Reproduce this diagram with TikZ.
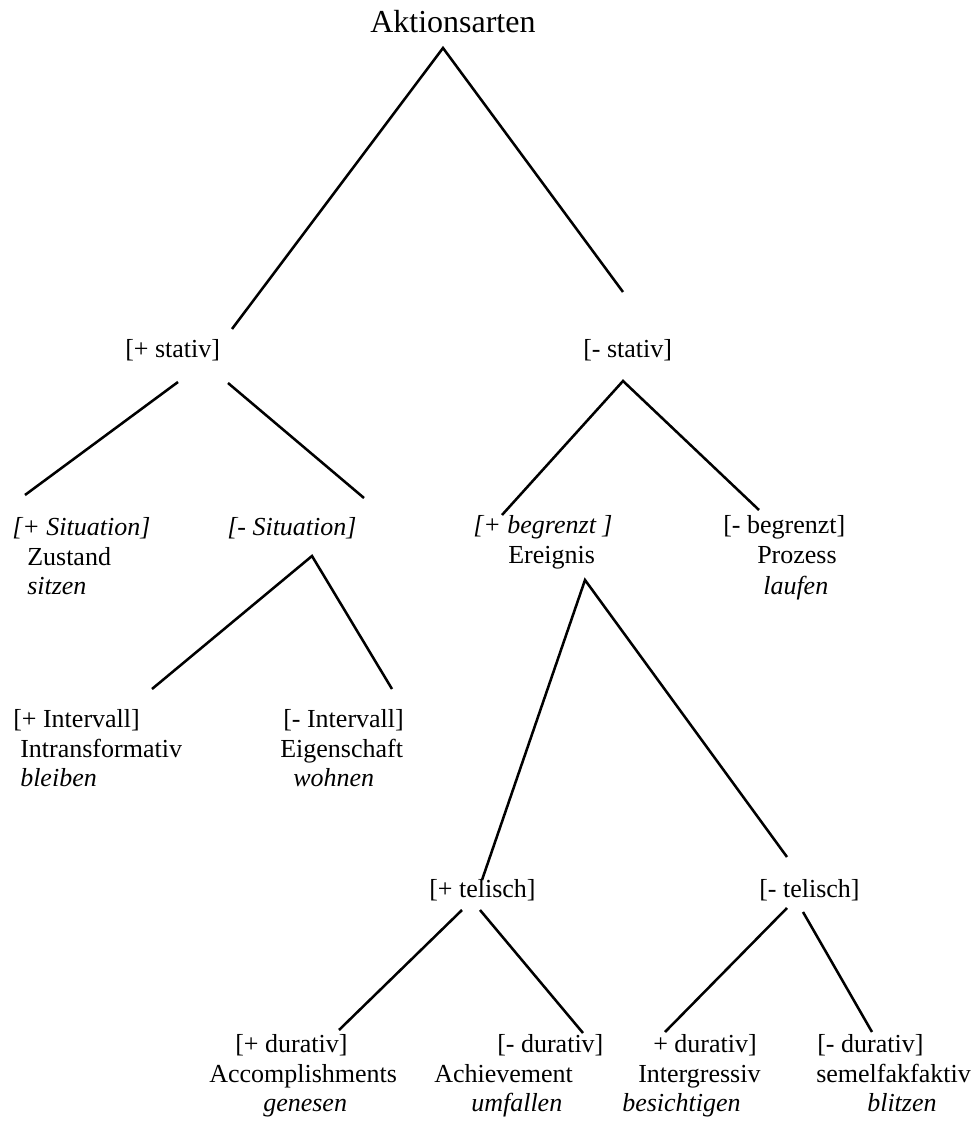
\documentclass[tikz,border=0pt]{standalone}
\usepackage{fontspec}
\setmainfont{Liberation Serif}
\begin{document}
\begin{tikzpicture}[x=0.75pt,y=-0.75pt,
  lbl/.style={anchor=base west,inner sep=0pt,font=\fontsize{19.5}{22}\selectfont},
  ilbl/.style={lbl,font=\fontsize{19.5}{22}\selectfont\itshape},
  ttl/.style={anchor=base west,inner sep=0pt,font=\fontsize{24}{28}\selectfont},
  edge/.style={line width=1.9pt}]
\useasboundingbox (0,0) rectangle (980,1144);
% title
\node[ttl] (root) at (370,33) {Aktionsarten};
% level 1
\node[lbl] (pst) at (125,358) {[+ stativ]};
\node[lbl] (mst) at (583,358) {[- stativ]};
% level 2
\node[ilbl] (psit) at (12,535) {[+ Situation]};
\node[lbl] (zus) at (27,565) {Zustand};
\node[ilbl] (sit) at (27,594) {sitzen};
\node[ilbl] (msit) at (227,535) {[- Situation]};
\node[ilbl] (pbeg) at (473,533) {[+ begrenzt ]};
\node[lbl] (ere) at (508,563) {Ereignis};
\node[lbl] (mbeg) at (723,533) {[- begrenzt]};
\node[lbl] (pro) at (757,563) {Prozess};
\node[ilbl] (lau) at (763,594) {laufen};
% level 3
\node[lbl] (pint) at (13,727) {[+ Intervall]};
\node[lbl] (intr) at (20,757) {Intransformativ};
\node[ilbl] (ble) at (20,786) {bleiben};
\node[lbl] (mint) at (283,727) {[- Intervall]};
\node[lbl] (eig) at (280,757) {Eigenschaft};
\node[ilbl] (woh) at (293,786) {wohnen};
\node[lbl] (ptel) at (429,897) {[+ telisch]};
\node[lbl] (mtel) at (759,897) {[- telisch]};
% level 4
\node[lbl] (pdur1) at (235,1052) {[+ durativ]};
\node[lbl] (acc) at (209,1082) {Accomplishments};
\node[ilbl] (gen) at (263,1111) {genesen};
\node[lbl] (mdur1) at (497,1052) {[- durativ]};
\node[lbl] (ach) at (434,1082) {Achievement};
\node[ilbl] (umf) at (471,1111) {umfallen};
\node[lbl] (pdur2) at (653,1052) {+ durativ]};
\node[lbl] (intg) at (638,1082) {Intergressiv};
\node[ilbl] (bes) at (622,1111) {besichtigen};
\node[lbl] (mdur2) at (817,1052) {[- durativ]};
\node[lbl] (sem) at (816,1082) {semelfakfaktiv};
\node[ilbl] (bli) at (867,1111) {blitzen};
% connector end points
\coordinate (r0) at (443,48);
\coordinate (r1) at (232,329);
\coordinate (r2) at (623,292);
\coordinate (s0a) at (178,382);
\coordinate (s1) at (25,495);
\coordinate (s0b) at (228,383);
\coordinate (s2) at (364,498);
\coordinate (n0) at (623,381);
\coordinate (n1) at (502,515);
\coordinate (n2) at (759,510);
\coordinate (m0) at (312,556);
\coordinate (m1) at (152,689);
\coordinate (m2) at (392,689);
\coordinate (e0) at (585,580);
\coordinate (e1) at (482,880);
\coordinate (e2) at (787,857);
\coordinate (t0a) at (462,910);
\coordinate (t1) at (339,1030);
\coordinate (t0b) at (480,910);
\coordinate (t2) at (583,1033);
\coordinate (u0a) at (787,908);
\coordinate (u1) at (665,1032);
\coordinate (u0b) at (803,912);
\coordinate (u2) at (872,1032);
% connectors
\draw[edge] (r1) -- (r0) -- (r2);
\draw[edge] (s0a) -- (s1);
\draw[edge] (s0b) -- (s2);
\draw[edge] (n1) -- (n0) -- (n2);
\draw[edge] (m1) -- (m0) -- (m2);
\draw[edge] (e1) -- (e0) -- (e2);
\draw[edge] (t0a) -- (t1);
\draw[edge] (t0b) -- (t2);
\draw[edge] (u0a) -- (u1);
\draw[edge] (u0b) -- (u2);
\end{tikzpicture}
\end{document}
